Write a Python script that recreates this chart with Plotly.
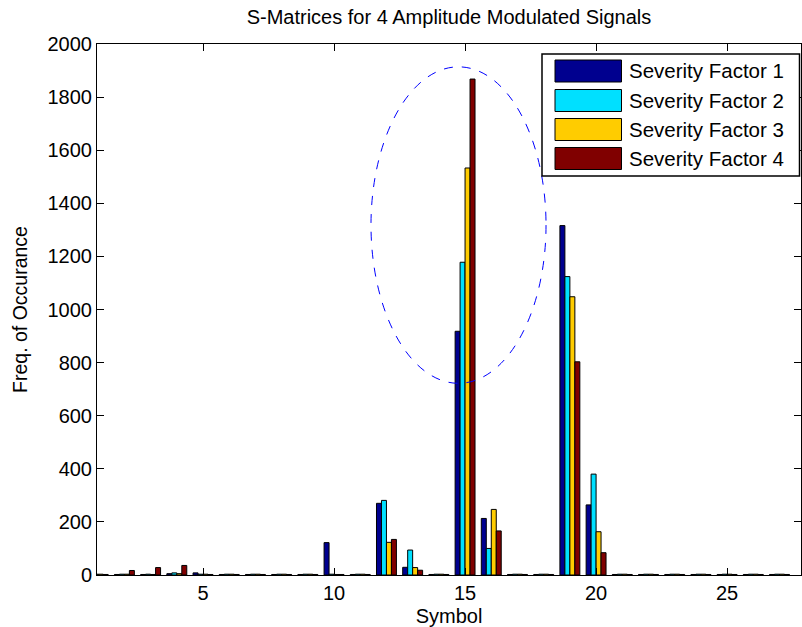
import plotly.graph_objects as go

# ---------------- data ----------------
symbols = list(range(1, 28))
series_names = ["Severity Factor 1", "Severity Factor 2", "Severity Factor 3", "Severity Factor 4"]
sf1 = [2, 2, 2, 5, 8, 2, 2, 2, 2, 122, 2, 270, 29, 2, 918, 213, 2, 2, 1316, 264, 2, 2, 2, 2, 2, 2, 2]
sf2 = [3, 3, 3, 8, 3, 3, 3, 3, 3, 3, 3, 281, 94, 3, 1178, 100, 3, 3, 1124, 380, 3, 3, 3, 3, 3, 3, 3]
sf3 = [3, 3, 2, 5, 3, 3, 3, 3, 3, 2, 3, 123, 28, 3, 1533, 247, 3, 3, 1048, 163, 3, 3, 3, 3, 3, 3, 3]
sf4 = [2, 17, 28, 36, 2, 2, 2, 2, 2, 2, 2, 134, 18, 2, 1868, 166, 2, 2, 803, 84, 2, 2, 2, 2, 2, 2, 2]
series_values = [sf1, sf2, sf3, sf4]
colors = ["#00008F", "#00E0FF", "#FFCC00", "#800000"]

x_ticks = [5, 10, 15, 20, 25]
y_ticks = list(range(0, 2001, 200))

# highlight ellipse around symbol 15 (data coords)
ellipse = dict(x0=11.41, x1=18.09, y0=722, y1=1914)

# ---------------- layout geometry (pixels) ----------------
W, H = 802, 627
L, R, T, B = 97, 801, 44, 575
FONT = "Liberation Sans, Arial, Helvetica"


def px_x(px):
    return (px - L) / (R - L)


def px_y(py):
    return (B - py) / (B - T)


fig = go.Figure()
for name, vals, col in zip(series_names, series_values, colors):
    fig.add_trace(go.Bar(
        x=symbols, y=vals, name=name,
        marker=dict(color=col, line=dict(color="black", width=1)),
        showlegend=False,
    ))

shapes = []
annotations = []

# ellipse
shapes.append(dict(type="circle", xref="x", yref="y",
                   x0=ellipse["x0"], x1=ellipse["x1"], y0=ellipse["y0"], y1=ellipse["y1"],
                   line=dict(color="#0000FF", width=1, dash="dash"), layer="above"))

# custom legend (MATLAB style)
shapes.append(dict(type="rect", xref="paper", yref="paper",
                   x0=px_x(542), x1=px_x(799.5), y0=px_y(176), y1=px_y(54),
                   line=dict(color="black", width=1.5), fillcolor="white", layer="above"))
row_tops = [60, 89.5, 118.5, 147.5]
for name, col, top in zip(series_names, colors, row_tops):
    shapes.append(dict(type="rect", xref="paper", yref="paper",
                       x0=px_x(555), x1=px_x(621.5), y0=px_y(top + 22), y1=px_y(top),
                       line=dict(color="black", width=1), fillcolor=col, layer="above"))
    annotations.append(dict(xref="paper", yref="paper", x=px_x(627), y=px_y(top + 11),
                            text=name, showarrow=False, xanchor="left", yanchor="middle",
                            font=dict(family=FONT, size=20.5, color="black")))

fig.update_layout(
    width=W, height=H,
    margin=dict(l=L, r=W - R, t=T, b=H - B),
    paper_bgcolor="white", plot_bgcolor="white",
    barmode="group", bargap=0.24, bargroupgap=0.0,
    font=dict(family=FONT, size=20, color="black"),
    title=dict(text="S-Matrices for 4 Amplitude Modulated Signals",
               x=0.5, xref="paper", xanchor="center",
               y=1 - 17 / H, yref="container", yanchor="middle",
               font=dict(family=FONT, size=20, color="black")),
    shapes=shapes,
    annotations=annotations,
)

fig.update_xaxes(range=[0.954, 27.82], tickvals=x_ticks, ticktext=[str(v) for v in x_ticks],
                 ticks="inside", ticklen=7, tickcolor="black", tickwidth=1,
                 showline=True, linecolor="black", linewidth=1, mirror="ticks",
                 showgrid=False, zeroline=False,
                 tickfont=dict(family=FONT, size=20),
                 title=dict(text="Symbol", standoff=7, font=dict(family=FONT, size=20)))
fig.update_yaxes(range=[0, 2000], tickvals=y_ticks, ticktext=[str(v) for v in y_ticks],
                 ticks="inside", ticklen=7, tickcolor="black", tickwidth=1,
                 showline=True, linecolor="black", linewidth=1, mirror="ticks",
                 showgrid=False, zeroline=False,
                 tickfont=dict(family=FONT, size=20),
                 title=dict(text="Freq. of Occurance", standoff=14, font=dict(family=FONT, size=19.5)))

fig.write_html("out.html")
